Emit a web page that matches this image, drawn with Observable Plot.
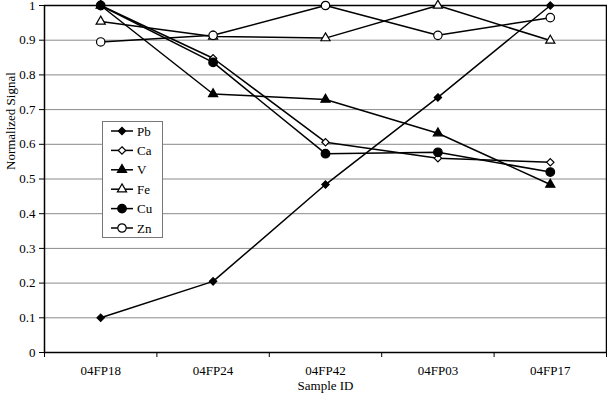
<!DOCTYPE html>
<html>
<head>
<meta charset="utf-8">
<script src="https://cdn.jsdelivr.net/npm/d3@7"></script>
<script src="https://cdn.jsdelivr.net/npm/@observablehq/plot@0.6"></script>
<style>
  html, body { margin: 0; padding: 0; background: #fff; }
  #wrap { position: relative; width: 607px; height: 400px; font-family: 'Liberation Serif'; }
  #wrap svg, #wrap svg text { font-family: 'Liberation Serif' !important; }
</style>
</head>
<body>
<div id="wrap"></div>
<script>
const samples = ["04FP18", "04FP24", "04FP42", "04FP03", "04FP17"];
const seriesNames = ["Pb", "Ca", "V", "Fe", "Cu", "Zn"];
const pb = [0.100, 0.205, 0.484, 0.735, 1.000];
const ca = [1.000, 0.848, 0.606, 0.560, 0.548];
const v  = [1.000, 0.745, 0.729, 0.632, 0.484];
const fe = [0.954, 0.911, 0.906, 1.000, 0.899];
const cu = [1.000, 0.836, 0.573, 0.577, 0.520];
const zn = [0.895, 0.914, 1.000, 0.914, 0.965];
const yTicks = [0, 0.1, 0.2, 0.3, 0.4, 0.5, 0.6, 0.7, 0.8, 0.9, 1];
const yTickLabels = ["0", "0.1", "0.2", "0.3", "0.4", "0.5", "0.6", "0.7", "0.8", "0.9", "1"];
const xTitle = "Sample ID";
const yTitle = "Normalized Signal";

const seriesValues = [pb, ca, v, fe, cu, zn];
const symbols = ["diamond2", "diamond2", "triangle", "triangle", "circle", "circle"];
const filled = [true, false, true, false, true, false];
const radii = [3.3, 3.3, 3.4, 3.4, 4.3, 4.2];

const rows = seriesNames.flatMap((s, k) =>
  seriesValues[k].map((val, i) => ({series: s, i, value: val})));

const font = "Liberation Serif";

const dotMarks = seriesNames.map((s, k) =>
  Plot.dot(rows.filter(d => d.series === s), {
    x: "i", y: "value",
    symbol: symbols[k], r: radii[k],
    fill: filled[k] ? "black" : "white",
    stroke: "black", strokeWidth: 1.2
  }));

const chart = Plot.plot({
  width: 607,
  height: 400,
  marginTop: 5,
  marginRight: 1,
  marginBottom: 48,
  marginLeft: 44,
  style: {fontFamily: font, fontSize: "13px", background: "white", color: "black"},
  x: {type: "linear", domain: [-0.5, samples.length - 0.5]},
  y: {domain: [0, 1]},
  marks: [
    Plot.gridY({ticks: yTicks, stroke: "#8a8a8a", strokeOpacity: 1}),
    Plot.axisY({ticks: yTicks, tickFormat: d => yTickLabels[yTicks.indexOf(d)], tickSize: 5, tickPadding: 4, label: null, fontFamily: font, fontSize: 13}),
    Plot.axisX({ticks: d3.range(samples.length), tickFormat: i => samples[i], tickSize: 0, tickPadding: 13, label: null, fontFamily: font, fontSize: 13}),
    Plot.axisX({ticks: d3.range(samples.length + 1).map(i => i - 0.5), tickFormat: () => "", tickSize: 5, label: null}),
    Plot.frame({stroke: "black", strokeWidth: 1.5}),
    Plot.line(rows, {x: "i", y: "value", z: "series", stroke: "black", strokeWidth: 1.5}),
    ...dotMarks,
    Plot.text([yTitle], {frameAnchor: "left", rotate: -90, dx: -34, dy: -9, text: d => d, fontSize: 13, fontFamily: font}),
    Plot.text([xTitle], {frameAnchor: "bottom", dy: 37, text: d => d, fontSize: 13, fontFamily: font})
  ]
});

const wrap = document.getElementById("wrap");
wrap.appendChild(chart);

// Legend (HTML overlay with inline SVG symbols)
const lw = 60, lh = 116, rowH = 19.4, y0 = 10;
const legend = d3.create("svg")
  .attr("width", lw + 1).attr("height", lh + 1)
  .attr("font-family", font).attr("font-size", 13)
  .style("position", "absolute").style("left", "102px").style("top", "121px");
legend.append("rect").attr("x", 0.5).attr("y", 0.5).attr("width", lw).attr("height", lh)
  .attr("fill", "white").attr("stroke", "#777");
const symMap = {diamond2: d3.symbolDiamond2, triangle: d3.symbolTriangle, circle: d3.symbolCircle};
seriesNames.forEach((s, k) => {
  const g = legend.append("g").attr("transform", `translate(0,${y0 + k * rowH})`);
  g.append("line").attr("x1", 9).attr("x2", 31).attr("stroke", "black").attr("stroke-width", 1.5);
  g.append("path")
    .attr("transform", "translate(20,0)")
    .attr("d", d3.symbol(symMap[symbols[k]], Math.PI * radii[k] * radii[k])())
    .attr("fill", filled[k] ? "black" : "white")
    .attr("stroke", "black").attr("stroke-width", 1.2);
  g.append("text").attr("x", 35).attr("y", 4.5).text(s);
});
wrap.appendChild(legend.node());
</script>
</body>
</html>
